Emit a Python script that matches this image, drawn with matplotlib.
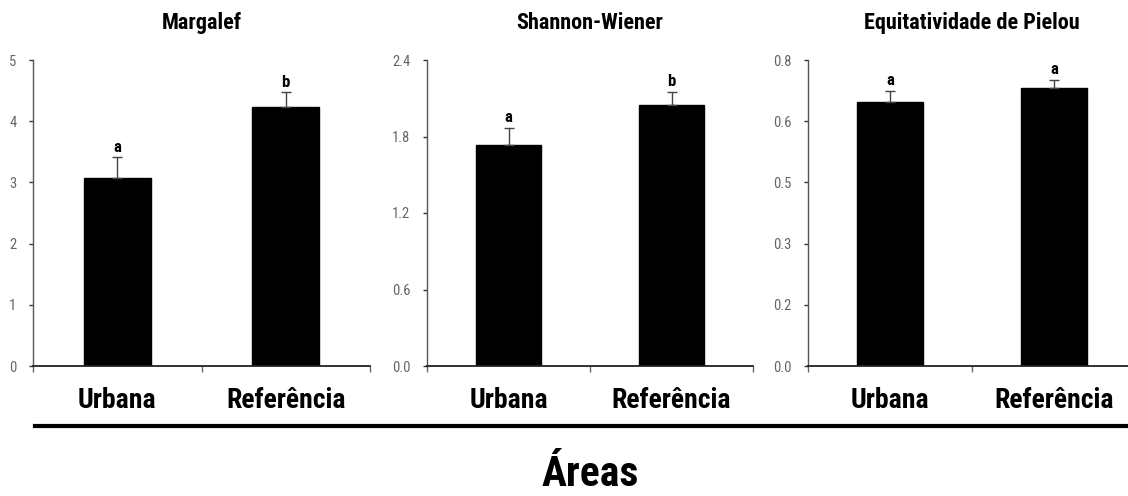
import matplotlib
matplotlib.use("Agg")
import matplotlib.pyplot as plt
import numpy as np
from matplotlib.ticker import FormatStrFormatter

plt.rcParams['font.family'] = ['Liberation Sans Narrow', 'Roboto Condensed', 'Archivo Narrow',
                               'Liberation Sans', 'DejaVu Sans']

categories = ['Urbana', 'Referência']

titles = ['Margalef', 'Shannon-Wiener', 'Equitatividade de Pielou']
means = [
    [3.07, 4.23],   # Margalef
    [1.73, 2.05],   # Shannon-Wiener
    [0.690, 0.727], # Pielou
]
errors = [
    [0.34, 0.24],
    [0.14, 0.10],
    [0.030, 0.021],
]
letters = [
    ['a', 'b'],
    ['a', 'b'],
    ['a', 'a'],
]
y_ticks = [
    [0, 1, 2, 3, 4, 5],
    [0.0, 0.6, 1.2, 1.8, 2.4],
    [0.0, 0.16, 0.32, 0.48, 0.64, 0.8],
]
y_fmt = ['%d', '%.1f', '%.1f']

W, H = 1128, 496
fig = plt.figure(figsize=(W / 100, H / 100), dpi=100)

# axes boxes in pixels: left, right, bottom(y from top), top(y from top)
boxes = [(33, 370, 366, 60), (427, 753, 366, 60), (808, 1136, 366, 60)]

for i, (l, r, b, t) in enumerate(boxes):
    ax = fig.add_axes([l / W, (H - b) / H, (r - l) / W, (b - t) / H])
    x = np.arange(len(categories))
    ax.bar(x, means[i], width=0.4, color='black', edgecolor='black', zorder=2)
    ax.errorbar(x, means[i], yerr=[np.zeros(len(x)), errors[i]], fmt='none',
                ecolor='#444444', elinewidth=1.0, capsize=3.5, capthick=1.0, zorder=3)
    for xi, m, e, lab in zip(x, means[i], errors[i], letters[i]):
        ax.annotate(lab, (xi, m + e), xytext=(0, 2), textcoords='offset points',
                    ha='center', va='bottom', fontsize=12, fontweight='bold')

    ax.set_xlim(-0.5, 1.5)
    ax.set_ylim(y_ticks[i][0], y_ticks[i][-1])
    ax.set_yticks(y_ticks[i])
    ax.yaxis.set_major_formatter(FormatStrFormatter(y_fmt[i]))
    ax.tick_params(axis='y', labelsize=10.5, labelcolor='#666666', length=3,
                   width=1.0, pad=9, color='#333333')

    ax.set_xticks(x)
    ax.set_xticklabels(categories, fontsize=20, fontweight='bold')
    ax.tick_params(axis='x', length=0, pad=15)
    ax.set_xticks([-0.5, 0.5, 1.5], minor=True)
    ax.tick_params(axis='x', which='minor', length=4, width=1.0, color='#666666')

    ax.spines['top'].set_visible(False)
    ax.spines['right'].set_visible(False)
    ax.spines['left'].set_color('#555555')
    ax.spines['left'].set_linewidth(1.0)
    ax.spines['bottom'].set_color('#222222')
    ax.spines['bottom'].set_linewidth(1.3)

    ax.text(0.5, 1 + 37 / (b - t), titles[i], transform=ax.transAxes,
            ha='center', va='center', fontsize=16, fontweight='bold')

# separator line and common x label
fig.add_artist(plt.Line2D([35 / W, 1.0], [(H - 426) / H] * 2, color='black',
                          linewidth=3.0, transform=fig.transFigure))
fig.text(590 / W, (H - 486) / H, 'Áreas', ha='center', va='baseline',
         fontsize=30, fontweight='bold')

fig.savefig('out.png', dpi=100, facecolor='white')
